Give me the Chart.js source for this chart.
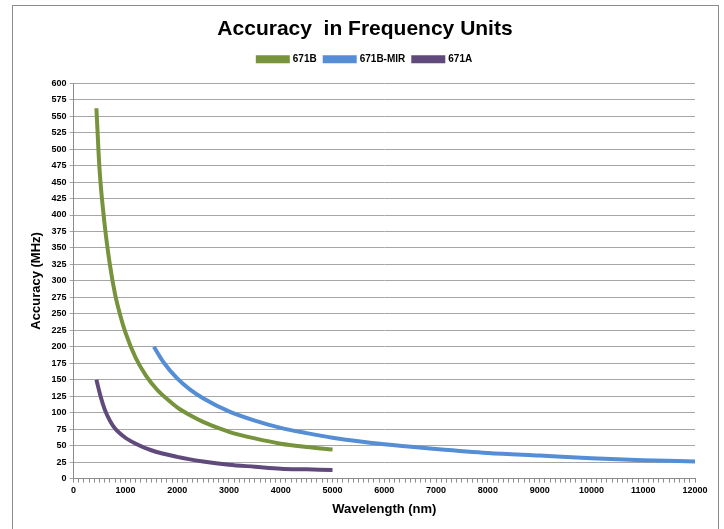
<!DOCTYPE html>
<html>
<head>
<meta charset="utf-8">
<script src="https://cdn.jsdelivr.net/npm/chart.js@4.4.1/dist/chart.umd.min.js"></script>
<style>
  html, body { margin: 0; padding: 0; background: #fff; }
  #wrap { position: relative; width: 724px; height: 529px; }
  #frame { position: absolute; left: 12px; top: 5px; width: 707px; height: 540px; border: 1px solid #8c8c8c; box-sizing: border-box; }
  canvas { position: absolute; left: 0; top: 0; }
</style>
</head>
<body>
<div id="wrap">
  <div id="frame"></div>
  <canvas id="chart" width="724" height="529"></canvas>
</div>
<script>
// wavelength (nm) / accuracy (MHz)
const x671B = [440, 500, 600, 700, 800, 900, 1000, 1200, 1400, 1600, 1800, 2000, 2250, 2500, 2750, 3000, 3500, 4000, 4500, 5000];
const y671B = [562, 470, 385, 325, 280, 248, 222, 183, 156, 136, 121, 108, 96, 86, 78, 71, 61, 53, 48, 44];

const xMIR = [1550, 1750, 2000, 2250, 2500, 3000, 3500, 4000, 4500, 5000, 6000, 7000, 8000, 9000, 10000, 11000, 12000];
const yMIR = [200, 175, 152, 135, 122, 102, 88, 77, 69, 62, 52, 45, 39, 35, 31, 28, 26];

const x671A = [440, 520, 600, 700, 800, 1000, 1200, 1500, 2000, 2500, 3000, 3500, 4000, 4500, 5000];
const y671A = [150, 125, 105, 88, 76, 62, 53, 43, 33, 26, 21, 18, 15, 14, 13];

const seriesNames = ["671B", "671B-MIR", "671A"];
const colors = ["#77933c", "#558ed5", "#604a7b"];

function pts(xs, ys) {
  return xs.map((x, i) => ({ x: x, y: ys[i] }));
}

const font = "'Liberation Sans', Arial, sans-serif";

// a little extra room under the legend
const legendGap = {
  id: "legendGap",
  beforeInit(chart) {
    const fit = chart.legend.fit;
    chart.legend.fit = function () {
      fit.bind(chart.legend)();
      this.height += 9;
    };
  },
};

new Chart(document.getElementById("chart").getContext("2d"), {
  type: "line",
  data: {
    datasets: [
      { label: seriesNames[0], data: pts(x671B, y671B) },
      { label: seriesNames[1], data: pts(xMIR, yMIR) },
      { label: seriesNames[2], data: pts(x671A, y671A) },
    ].map((d, i) => Object.assign(d, {
      borderColor: colors[i],
      backgroundColor: colors[i],
      borderWidth: 4,
      pointRadius: 0,
      fill: false,
      cubicInterpolationMode: "monotone",
    })),
  },
  plugins: [legendGap],
  options: {
    responsive: false,
    animation: false,
    layout: { padding: { left: 25, right: 19, top: 6, bottom: 8 } },
    plugins: {
      title: {
        display: true,
        text: "Accuracy  in Frequency Units",
        color: "#000",
        font: { family: font, size: 21, weight: "bold" },
        padding: { top: 11, bottom: 4 },
      },
      legend: {
        labels: {
          color: "#000",
          font: { family: font, size: 10, weight: "bold" },
          boxWidth: 30,
          boxHeight: 4,
          padding: 8,
        },
      },
      tooltip: { enabled: false },
    },
    scales: {
      x: {
        type: "linear",
        min: 0,
        max: 12000,
        ticks: {
          stepSize: 100,
          autoSkip: false,
          maxRotation: 0,
          color: "#000",
          font: { family: font, size: 9, weight: "bold" },
          callback: (v) => (v % 1000 === 0 ? String(v) : ""),
        },
        grid: { drawOnChartArea: false, drawTicks: true, tickLength: 4, color: "#8c8c8c" },
        border: { color: "#8c8c8c" },
        title: {
          display: true,
          text: "Wavelength (nm)",
          color: "#000",
          font: { family: font, size: 13, weight: "bold" },
          padding: { top: 2 },
        },
      },
      y: {
        min: 0,
        max: 600,
        ticks: {
          stepSize: 25,
          color: "#000",
          font: { family: font, size: 9, weight: "bold" },
        },
        grid: { color: "#a6a6a6", lineWidth: 1, tickLength: 4 },
        border: { color: "#8c8c8c" },
        title: {
          display: true,
          text: "Accuracy (MHz)",
          color: "#000",
          font: { family: font, size: 13, weight: "bold" },
        },
      },
      // empty spacer on the right so the title and legend sit centred like the original
      yRight: {
        position: "right",
        display: true,
        min: 0,
        max: 600,
        ticks: { display: false },
        grid: { display: false },
        border: { display: false },
        afterFit: (s) => { s.width = 10; },
      },
    },
  },
});
</script>
</body>
</html>
